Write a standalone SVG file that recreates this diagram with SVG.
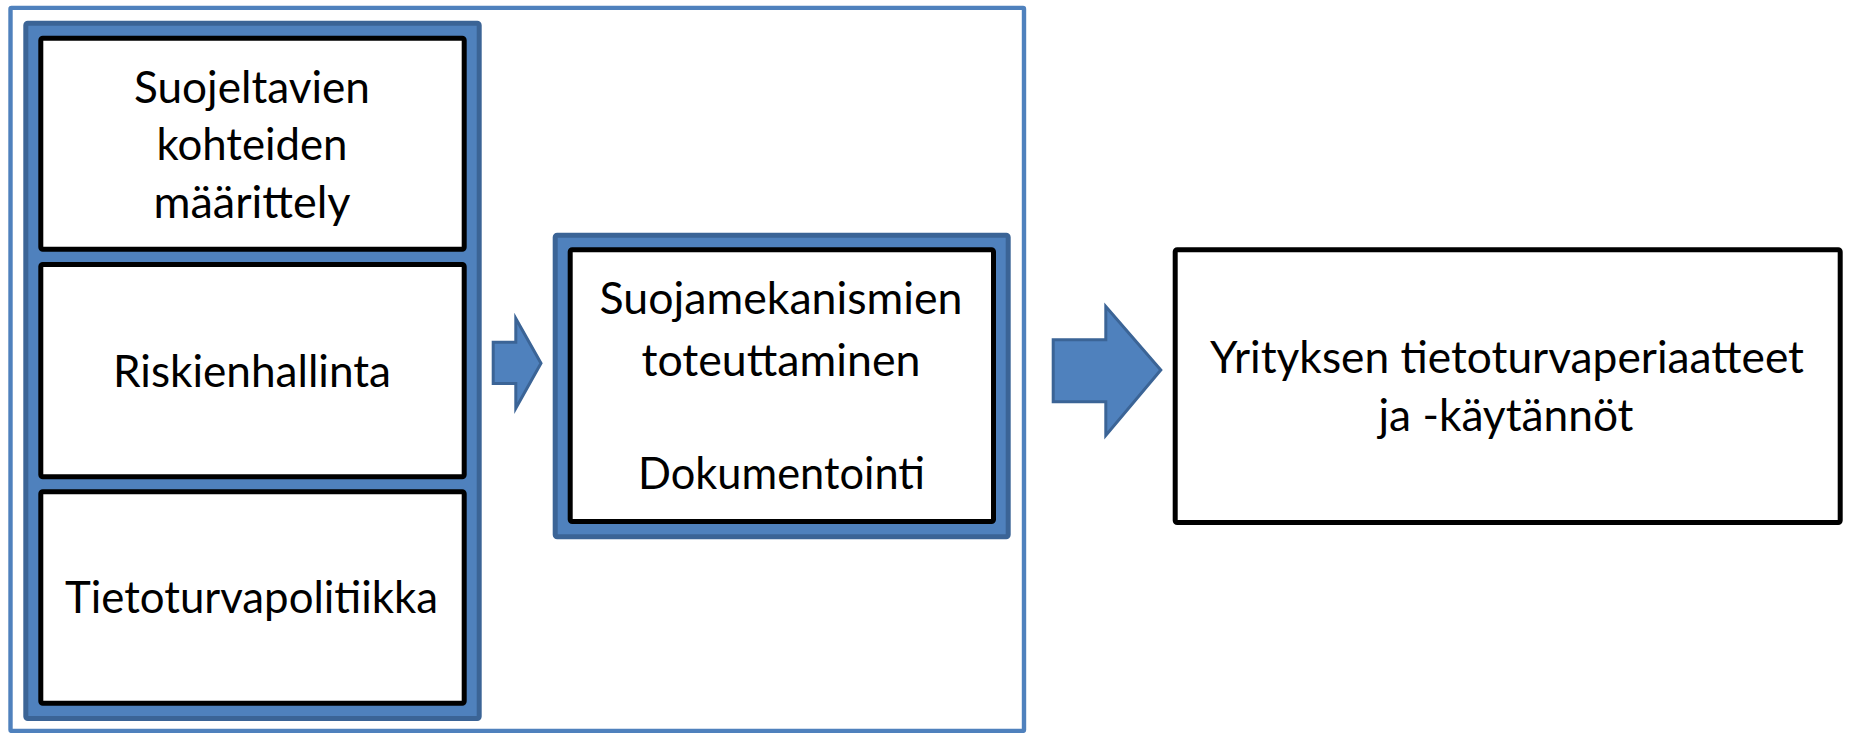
<svg xmlns="http://www.w3.org/2000/svg" width="1849" height="733" viewBox="0 0 1849 733">
<style>
.frame{fill:none;stroke:#4f81bd;stroke-width:4.4}
.panel{fill:#4f81bd;stroke:#3b6496;stroke-width:5}
.box{fill:#ffffff;stroke:#000000;stroke-width:5}
.arrow{fill:#4f81bd;stroke:#3b6496;stroke-width:3;stroke-linejoin:miter}
.t{font-family:Lato,"Liberation Sans",sans-serif;font-size:44px;fill:#000000;text-anchor:middle}
</style>
<rect id="outer-frame" class="frame" x="10.5" y="7.9" width="1013.5" height="723" rx="1"/>
<g id="left-panel">
<rect class="panel" x="25.8" y="23.2" width="453.4" height="695.3" rx="2"/>
</g>
<g id="node-suojeltavien">
<rect class="box" x="40.8" y="38.2" width="423.4" height="211" rx="2"/>
<text class="t" x="252" y="103.3" textLength="236" lengthAdjust="spacingAndGlyphs">Suojeltavien</text>
<text class="t" x="252" y="160" textLength="191" lengthAdjust="spacingAndGlyphs">kohteiden</text>
<text class="t" x="252" y="218" textLength="197" lengthAdjust="spacingAndGlyphs">määrittely</text>
</g>
<g id="node-riskienhallinta">
<rect class="box" x="40.8" y="264.5" width="423.4" height="212.3" rx="2"/>
<text class="t" x="252" y="386.7" textLength="278" lengthAdjust="spacingAndGlyphs">Riskienhallinta</text>
</g>
<g id="node-tietoturvapolitiikka">
<rect class="box" x="40.8" y="491.8" width="423.4" height="211.4" rx="2"/>
<text class="t" x="251.5" y="613" textLength="373" lengthAdjust="spacingAndGlyphs">Tietoturvapolitiikka</text>
</g>
<g id="middle-panel">
<rect class="panel" x="555.2" y="235.2" width="453" height="301.6" rx="2"/>
</g>
<g id="node-suojamekanismien">
<rect class="box" x="570.2" y="249.8" width="423.3" height="271.7" rx="2"/>
<text class="t" x="781" y="314.3" textLength="363" lengthAdjust="spacingAndGlyphs">Suojamekanismien</text>
<text class="t" x="781" y="376" textLength="279" lengthAdjust="spacingAndGlyphs">toteuttaminen</text>
<text class="t" x="781.5" y="489.3" textLength="287" lengthAdjust="spacingAndGlyphs">Dokumentointi</text>
</g>
<g id="node-yrityksen">
<rect class="box" x="1175.2" y="249.8" width="665" height="272.7" rx="2"/>
<text class="t" x="1507" y="373.3" textLength="594" lengthAdjust="spacingAndGlyphs">Yrityksen tietoturvaperiaatteet</text>
<text class="t" x="1506" y="431" textLength="255" lengthAdjust="spacingAndGlyphs">ja -käytännöt</text>
</g>
<g id="connectors">
<polygon class="arrow" points="493.2,342.2 515.8,342.2 515.8,318.5 541,363.3 515.8,408.2 515.8,383.5 493.2,383.5"/>
<polygon class="arrow" points="1053.2,339.8 1105.8,339.8 1105.8,306.5 1160.8,370 1105.8,435.5 1105.8,401.8 1053.2,401.8"/>
</g>
</svg>
